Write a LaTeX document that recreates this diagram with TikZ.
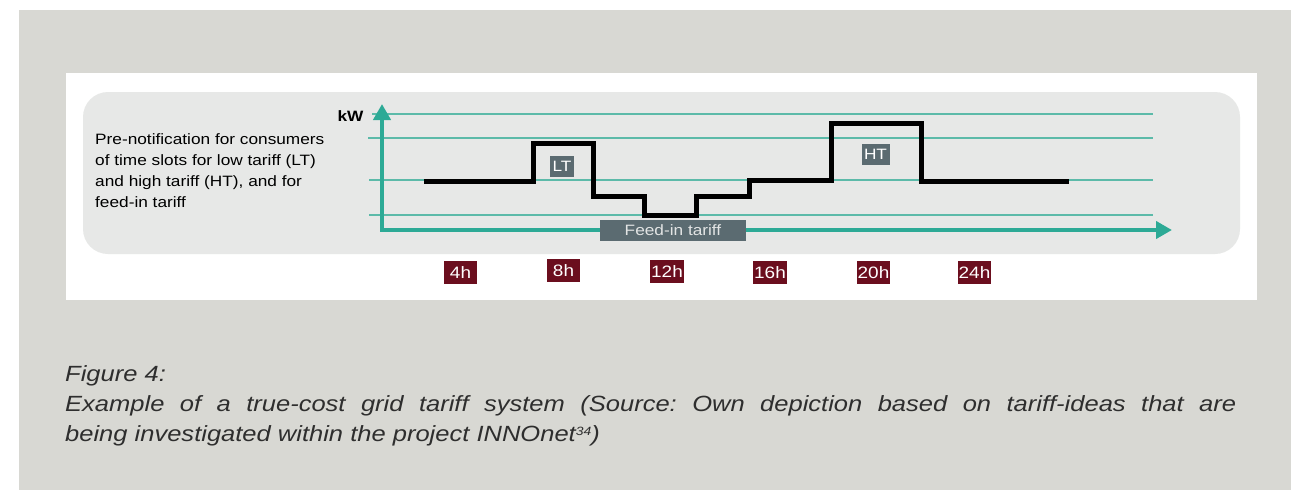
\documentclass[tikz,border=0pt]{standalone}
\usepackage{fontspec}
\usetikzlibrary{arrows.meta}
\newfontfamily\chartfont{Liberation Sans}[FakeStretch=1.15]
\newfontfamily\figcapfont{Liberation Sans}[FakeStretch=1.16]
\definecolor{pageGray}{HTML}{D8D8D3}
\definecolor{panelGray}{HTML}{E7E8E7}
\definecolor{gridTeal}{HTML}{5CBAA9}
\definecolor{axisTeal}{HTML}{2DAA96}
\definecolor{tariffSlate}{HTML}{5B6B71}
\definecolor{hourRed}{HTML}{6B0E1E}
\definecolor{feedText}{HTML}{E2E4E4}
\definecolor{captionGray}{HTML}{2E2E2E}
\frenchspacing

\begin{document}
\begin{tikzpicture}
[x=1pt,y=-1pt,
 hourDecorate/.style={fill=hourRed,text=white,font=\chartfont\fontsize{16.5}{16.5}\selectfont,
   minimum width=33pt,minimum height=23pt,inner sep=1pt},
 tariffDecorate/.style={fill=tariffSlate,text=white,font=\chartfont\fontsize{15}{15}\selectfont,
   inner xsep=2.5pt,inner ysep=1pt,minimum height=21pt}]
%% page and panels
\useasboundingbox (0,0) rectangle (1291,490);
\fill[pageGray] (19,10) rectangle (1291,490);
\fill[white] (66,73) rectangle (1257,300);
\fill[panelGray,rounded corners=25pt] (83,92) rectangle (1240,254);
%% grid lines
\tikzstyle{GridStyle}=[draw=gridTeal,line width=1.3pt]
\foreach \gridname/\xs/\y in {kw/372/114, hi/368/138, mid/369/180, lo/369/215}
{
  \coordinate (\gridname-l) at (\xs,\y);
  \coordinate (\gridname-r) at (1153,\y);
  \draw[GridStyle] (\gridname-l) -- (\gridname-r);
}
%% axes
\tikzstyle{AxisStyle}=[draw=axisTeal,line width=4.5pt,
  {Triangle[width=17pt,length=16pt]}-{Triangle[width=17pt,length=16pt]}]
\coordinate (origin) at (382,230);
\coordinate (ytip) at (382,104);
\coordinate (xtip) at (1172,230);
\draw[AxisStyle] (ytip) -- (origin) -- (xtip);
%% load profile
\tikzstyle{StepStyle}=[draw=black,line width=5pt,line join=miter]
\foreach \pname/\x/\y in {0/424/181, 1/533/181, 2/533/143, 3/593/143,
  4/593/196, 5/644/196, 6/644/215, 7/696/215, 8/696/196, 9/749/196,
  10/749/180, 11/831/180, 12/831/123, 13/921/123, 14/921/181, 15/1069/181}
{
  \coordinate (s\pname) at (\x,\y);
}
\draw[StepStyle] (s0) -- (s1) -- (s2) -- (s3) -- (s4) -- (s5) -- (s6) -- (s7)
  -- (s8) -- (s9) -- (s10) -- (s11) -- (s12) -- (s13) -- (s14) -- (s15);
%% tariff labels
\node (LT) at (562,166.5) [tariffDecorate] {LT};
\node (HT) at (875.5,154) [tariffDecorate] {HT};
\node (feedin) at (673,230.5) [tariffDecorate,minimum width=146pt,text=feedText] {Feed-in tariff};
%% hours
\foreach \h/\x/\y in {4/460.5/272.5, 8/563.5/270.5, 12/667/271.5,
  16/770/272.5, 20/873.5/272.5, 24/974.5/272.5}
{
  \node (h\h) at (\x,\y) [hourDecorate] {\h h};
}
%% texts
\node (kw) at (350.5,121) [anchor=base,inner sep=0pt,
  font=\chartfont\bfseries\fontsize{15}{15}\selectfont] {kW};
\foreach \lname/\y/\txt in {note1/144/{Pre-notification for consumers},
  note2/165/{of time slots for low tariff (LT)},
  note3/186/{and high tariff (HT), and for},
  note4/207/{feed-in tariff}}
{
  \node (\lname) at (95,\y) [anchor=base west,inner sep=0pt,
    font=\chartfont\fontsize{15}{15}\selectfont] {\txt};
}
%% caption
\tikzstyle{CaptionStyle}=[anchor=base west,inner sep=0pt,text=captionGray,
  font=\figcapfont\itshape\fontsize{22}{22}\selectfont]
\node (cap1) at (65,381) [CaptionStyle] {Figure 4:};
\node (cap2) at (65,411) [CaptionStyle] {\makebox[1171pt][s]{Example of a true-cost grid tariff system (Source: Own depiction based on tariff-ideas that are}};
\node (cap3) at (65,441) [CaptionStyle] {being investigated within the project INNOnet\raisebox{6pt}{\fontsize{12}{12}\selectfont 34})};
\end{tikzpicture}
\end{document}
